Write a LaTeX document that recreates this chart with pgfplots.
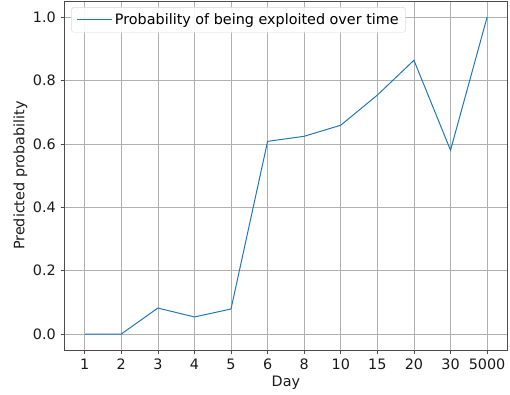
\documentclass[border={9pt 0pt 0pt 1pt}]{standalone}
\usepackage{fontspec}
\setmainfont{DejaVu Sans}
\usepackage{pgfplots}
\pgfplotsset{compat=1.18}
\definecolor{c0}{HTML}{1F77B4}
\definecolor{gridc}{HTML}{B0B0B0}
\begin{document}
\fontsize{14}{16}\selectfont
\begin{tikzpicture}[x=1pt,y=1pt]
\begin{axis}[
  width=447pt, height=352pt, scale only axis,
  xmin=-0.55, xmax=11.55, ymin=-0.05, ymax=1.05,
  xtick={0,...,11},
  xticklabels={1,2,3,4,5,6,8,10,15,20,30,5000},
  ytick={0,0.2,0.4,0.6,0.8,1.0},
  yticklabel style={/pgf/number format/.cd, fixed, fixed zerofill, precision=1},
  /pgf/number format/assume math mode=true,
  tick label style={font=\fontsize{14.5}{16}\selectfont, color=black!90},
  label style={font=\fontsize{14.5}{16}\selectfont, color=black!90},
  xlabel={Day}, ylabel={Predicted probability},
  grid=major,
  major grid style={color=gridc, line width=0.6pt},
  tick align=outside, major tick length=4pt,
  tick style={color=black!70, line width=0.6pt},
  xtick pos=bottom, ytick pos=left,
  axis line style={color=black!70, line width=0.6pt},
  legend style={font=\fontsize{14.5}{16}\selectfont, draw=black!15, rounded corners=2pt, fill=white, fill opacity=0.9, text opacity=1, at={(0.015,0.983)}, anchor=north west, inner xsep=5pt, inner ysep=4pt},
  legend image code/.code={\draw[#1] (0pt,0pt) -- (29pt,0pt); \path (0pt,0pt) -- (36pt,0pt);},
  legend cell align=left,
  xlabel style={yshift=3pt},
  ylabel style={yshift=-4pt},
]
\addplot[color=c0, line width=1pt, mark=none] coordinates {
(0,0) (1,0) (2,0.082) (3,0.054) (4,0.079) (5,0.608) (6,0.624) (7,0.659) (8,0.754) (9,0.864) (10,0.58) (11,1.0)
};
\addlegendentry{Probability of being exploited over time}
\end{axis}
\end{tikzpicture}
\end{document}
